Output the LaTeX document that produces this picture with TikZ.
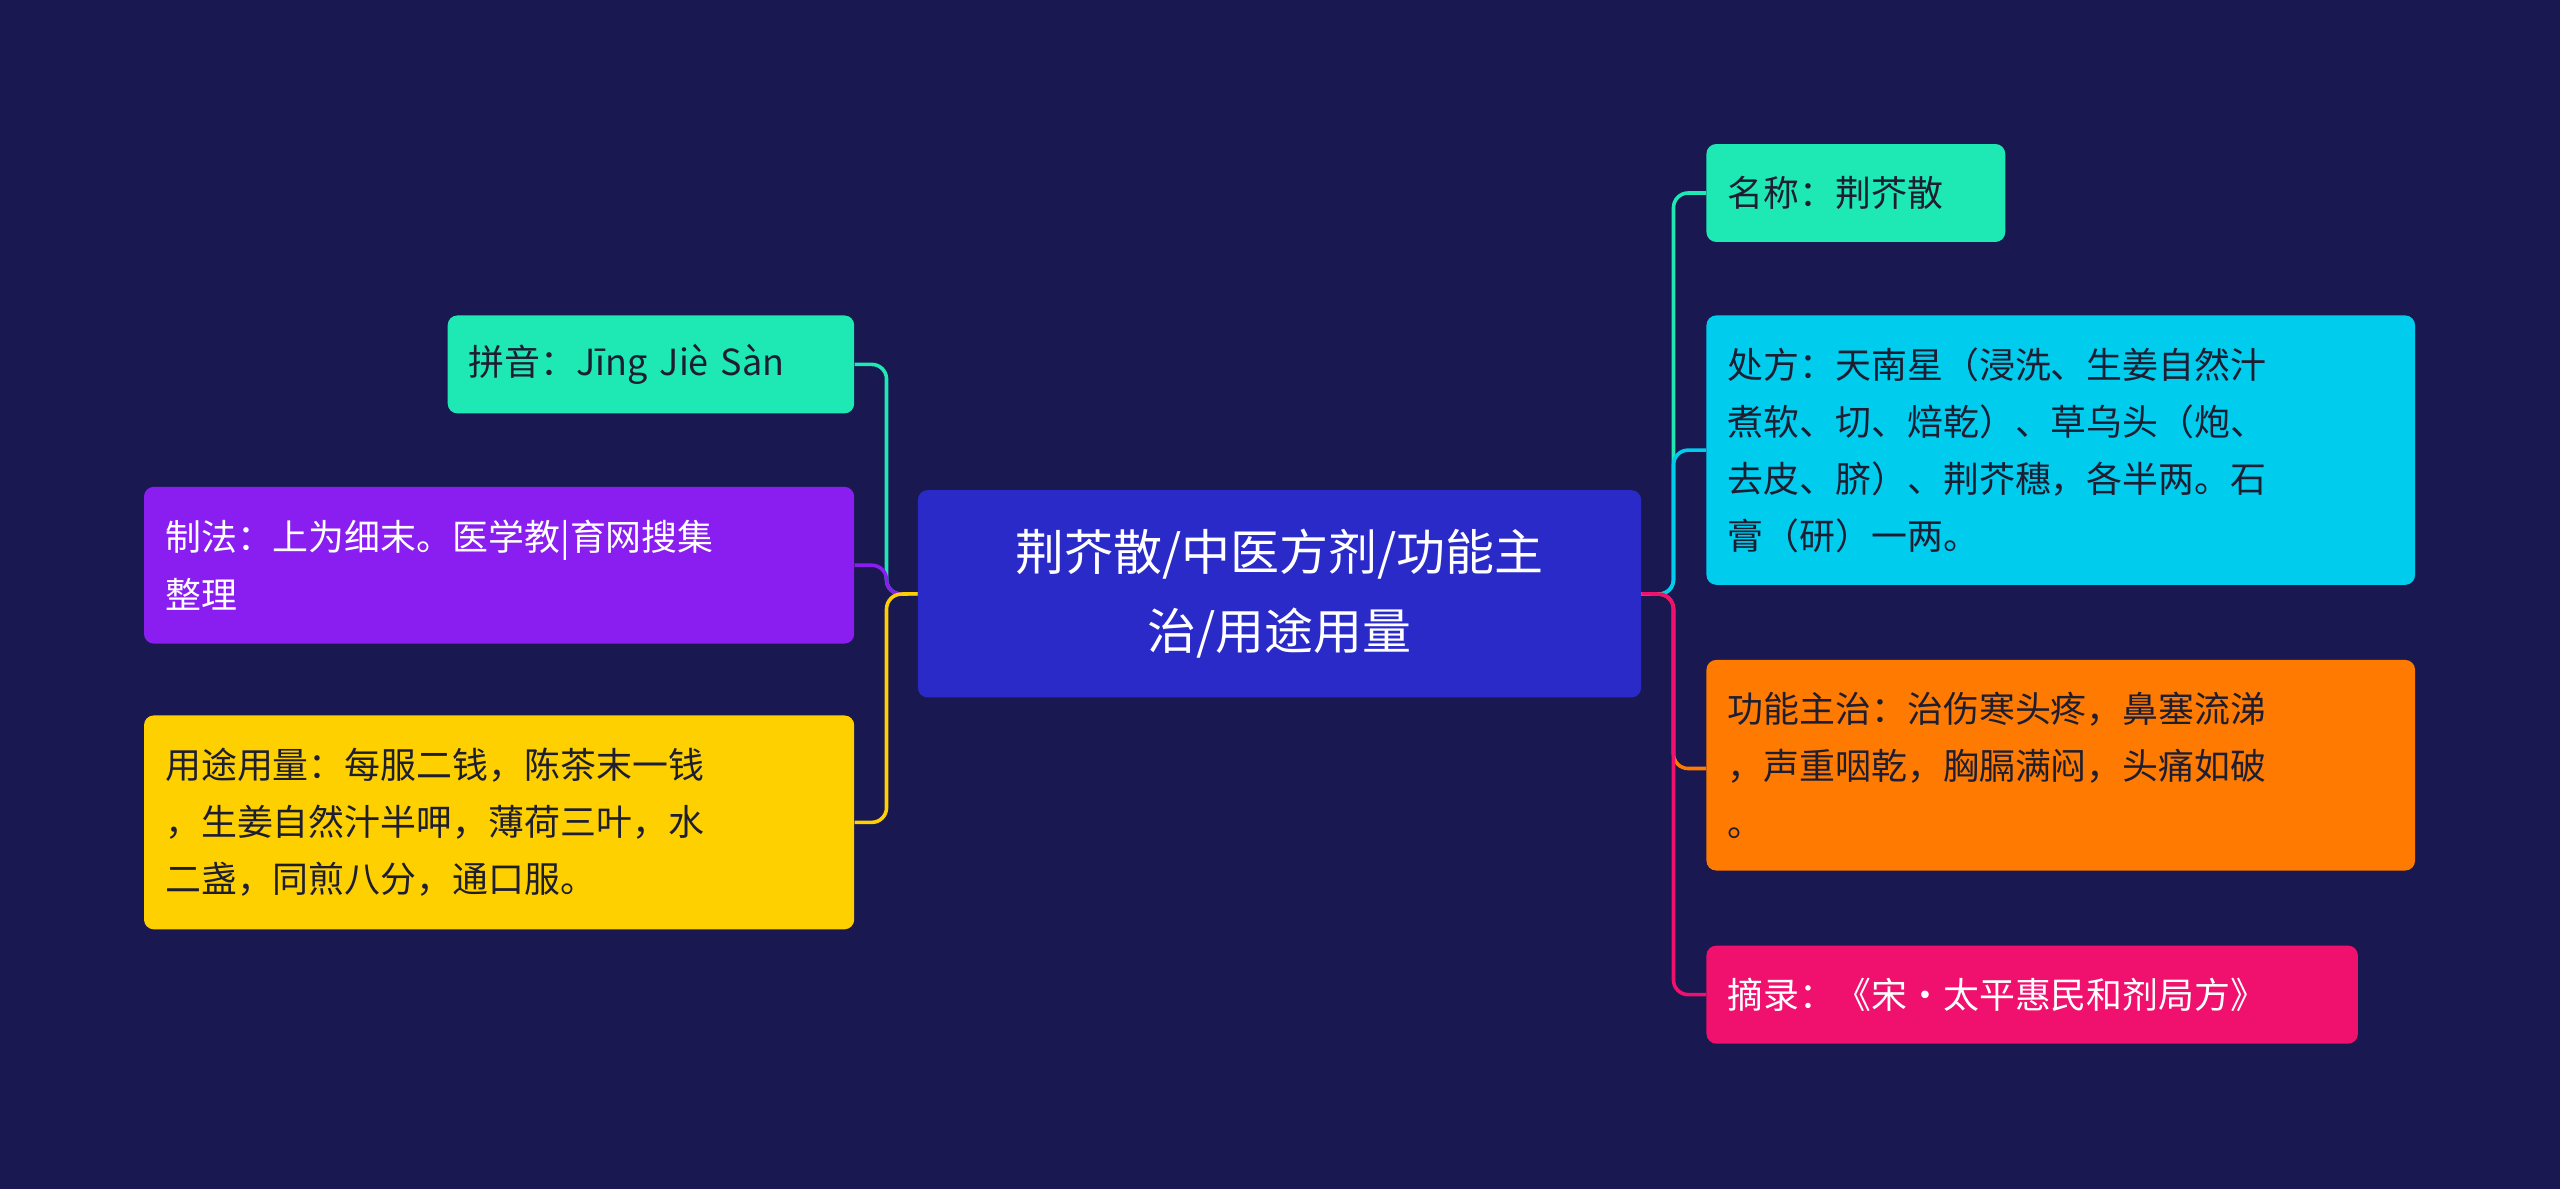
\documentclass[tikz,border=0pt]{standalone}
\usepackage{fontspec}
\setmainfont{Noto Sans CJK SC}
\begin{document}
\begin{tikzpicture}[x=1pt,y=-1pt,
 box/.style={anchor=north west,rounded corners=6pt,inner xsep=13pt,inner ysep=6pt,align=left,font=\fontsize{22}{35}\selectfont},
 lk/.style={line width=2.2pt,rounded corners=9pt}]
\fill[fill={rgb,255:red,25;green,24;blue,80}] (0,0) rectangle (1568,728);
\definecolor{teal}{RGB}{30,232,180}
\definecolor{purp}{RGB}{138,30,240}
\definecolor{yel}{RGB}{255,208,0}
\definecolor{cya}{RGB}{0,204,238}
\definecolor{ora}{RGB}{255,122,0}
\definecolor{pnk}{RGB}{240,16,110}
\definecolor{cen}{RGB}{42,42,200}
\definecolor{dk}{RGB}{30,30,50}
\node[box,fill=cen,text=white,minimum width=443,minimum height=127,text width=417,align=center,font=\fontsize{30}{48}\selectfont] (c) at (562,300) {荆芥散/中医方剂/功能主\\治/用途用量};
\node[box,fill=teal,text=dk,minimum width=249,minimum height=60,text width=223] (py) at (274,193) {拼音：Jīng Jiè Sàn};
\node[box,fill=purp,text=white,minimum width=435,minimum height=96,text width=409] (zf) at (88,298) {制法：上为细末。医学教|育网搜集\\整理};
\node[box,fill=yel,text=dk,minimum width=435,minimum height=131,text width=409] (yt) at (88,438) {用途用量：每服二钱，陈茶末一钱\\，生姜自然汁半呷，薄荷三叶，水\\二盏，同煎八分，通口服。};
\node[box,fill=teal,text=dk,minimum width=183,minimum height=60,text width=157] (mc) at (1045,88) {名称：荆芥散};
\node[box,fill=cya,text=dk,minimum width=434,minimum height=165,text width=408] (cf) at (1045,193) {处方：天南星（浸洗、生姜自然汁\\煮软、切、焙乾）、草乌头（炮、\\去皮、脐）、荆芥穗，各半两。石\\膏（研）一两。};
\node[box,fill=ora,text=dk,minimum width=434,minimum height=129,text width=408] (gn) at (1045,404) {功能主治：治伤寒头疼，鼻塞流涕\\，声重咽乾，胸膈满闷，头痛如破\\。};
\node[box,fill=pnk,text=white,minimum width=399,minimum height=60,text width=373] (zl) at (1045,579) {摘录：《宋·太平惠民和剂局方》};
\coordinate (hl) at (543,364);
\coordinate (hr) at (1025,364);
\draw[lk,teal] (c.west) -- (hl) |- (py.east);
\draw[lk,purp] (c.west) -- (hl) |- (zf.east);
\draw[lk,yel] (c.west) -- (hl) |- (yt.east);
\draw[lk,teal] (c.east) -- (hr) |- (mc.west);
\draw[lk,cya] (c.east) -- (hr) |- (cf.west);
\draw[lk,ora] (c.east) -- (hr) |- ([yshift=-2]gn.west);
\draw[lk,pnk] (c.east) -- (hr) |- (zl.west);
\end{tikzpicture}
\end{document}
